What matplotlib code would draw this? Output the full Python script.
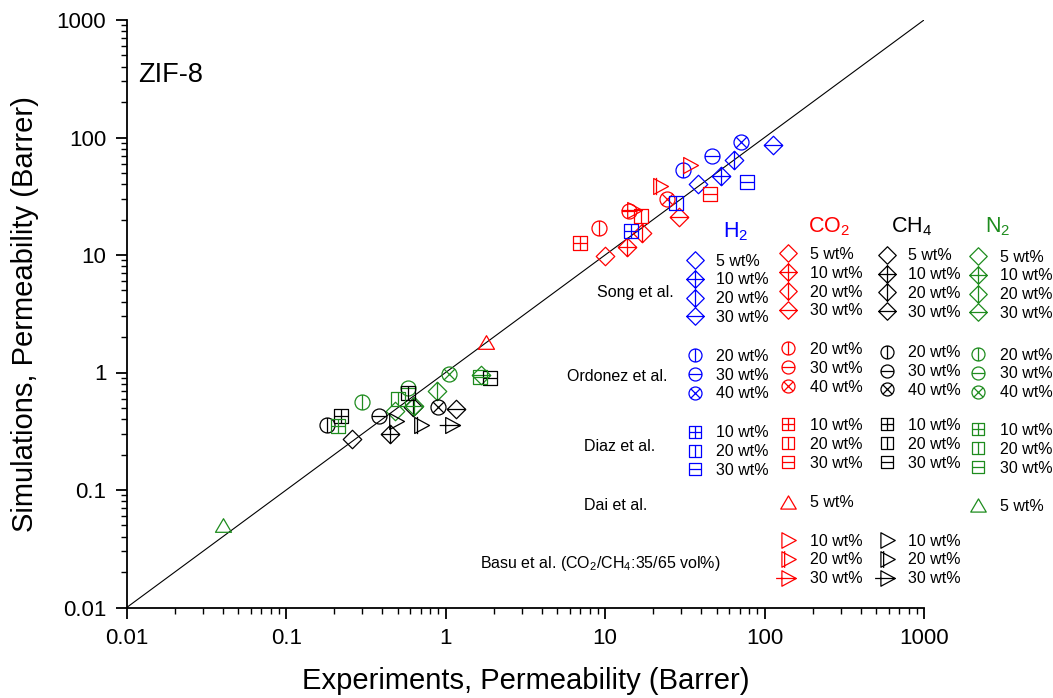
import numpy as np
import matplotlib
matplotlib.use("Agg")
import matplotlib.pyplot as plt
from matplotlib.path import Path
from matplotlib.ticker import FixedLocator, LogLocator, NullFormatter

plt.rcParams['font.family'] = ['Liberation Sans', 'DejaVu Sans']
plt.rcParams['mathtext.default'] = 'regular'

# ---------------- data (experiment, simulation) in Barrer ----------------
# Song et al.  (5, 10, 20, 30 wt%)
song_h2_exp = [38, 53, 64, 113]
song_h2_sim = [40, 47, 64, 86]
song_co2_exp = [10, 13.7, 17, 29]
song_co2_sim = [9.8, 11.6, 15.5, 21]
song_ch4_exp = [0.26, 0.45, 0.62, 1.16]
song_ch4_sim = [0.27, 0.30, 0.51, 0.49]
song_n2_exp = [0.48, 0.63, 0.88, 1.67]
song_n2_sim = [0.47, 0.52, 0.70, 0.95]

# Ordonez et al.  (20, 30, 40 wt%)
ord_h2_exp = [31, 47, 71]
ord_h2_sim = [53, 70, 91]
ord_co2_exp = [9.1, 14.2, 24.4]
ord_co2_sim = [17, 23.8, 30]
ord_ch4_exp = [0.18, 0.38, 0.89]
ord_ch4_sim = [0.36, 0.43, 0.51]
ord_n2_exp = [0.30, 0.585, 1.05]
ord_n2_sim = [0.56, 0.74, 0.97]

# Diaz et al.  (10, 20, 30 wt%)
diaz_h2_exp = [14.5, 28, 78]
diaz_h2_sim = [16, 27.5, 42]
diaz_co2_exp = [7.0, 16.8, 45.6]
diaz_co2_sim = [12.6, 21.5, 33]
diaz_ch4_exp = [0.22, 0.58, 1.9]
diaz_ch4_sim = [0.43, 0.67, 0.90]
diaz_n2_exp = [0.21, 0.50, 1.65]
diaz_n2_sim = [0.35, 0.59, 0.91]

# Dai et al.  (5 wt%)
dai_co2_exp = [1.8]
dai_co2_sim = [1.83]
dai_n2_exp = [0.04]
dai_n2_sim = [0.05]

# Basu et al.  (10, 20, 30 wt%), CO2/CH4 35/65 vol% mixture
basu_co2_exp = [34, 22, 15.2]
basu_co2_sim = [58, 38.7, 24.2]
basu_ch4_exp = [0.49, 0.70, 1.09]
basu_ch4_sim = [0.39, 0.36, 0.36]

axis_ticks = [0.01, 0.1, 1, 10, 100, 1000]
axis_ticklabels = ['0.01', '0.1', '1', '10', '100', '1000']

song_loadings = ['5 wt%', '10 wt%', '20 wt%', '30 wt%']
ord_loadings = ['20 wt%', '30 wt%', '40 wt%']
diaz_loadings = ['10 wt%', '20 wt%', '30 wt%']
dai_loadings = ['5 wt%']
basu_loadings = ['10 wt%', '20 wt%', '30 wt%']

BLUE, RED, BLACK, GREEN = '#0000ff', '#ff0000', '#000000', '#1e8c1e'

# ---------------- marker shapes ----------------
MV, LN, CL = Path.MOVETO, Path.LINETO, Path.CLOSEPOLY


def outline(pts):
    return Path(list(pts) + [pts[0]], [MV] + [LN] * (len(pts) - 1) + [CL])


def seg(p0, p1):
    return Path([p0, p1], [MV, LN])


def combo(*parts):
    return Path.make_compound_path(*parts)


dia = outline([(0, 1), (1, 0), (0, -1), (-1, 0)])
sq = outline([(-1, -1), (1, -1), (1, 1), (-1, 1)])
cir = Path.unit_circle()
tri_up = outline([(0, 0.85), (-1, -0.85), (1, -0.85)])
tri_r = outline([(1, 0), (-0.85, 1), (-0.85, -1)])
d = 0.7071
H = seg((-1, 0), (1, 0))
V = seg((0, -1), (0, 1))

MARKERS = {
    'dia': (dia, 'dia'),
    'dia_plus': (combo(dia, H, V), 'dia'),
    'dia_v': (combo(dia, V), 'dia'),
    'dia_h': (combo(dia, H), 'dia'),
    'cir_v': (combo(cir, V), 'cir'),
    'cir_h': (combo(cir, H), 'cir'),
    'cir_x': (combo(cir, seg((-d, -d), (d, d)), seg((-d, d), (d, -d))), 'cir'),
    'sq_plus': (combo(sq, H, V), 'sq'),
    'sq_v': (combo(sq, V), 'sq'),
    'sq_h': (combo(sq, H), 'sq'),
    'tri_up': (tri_up, 'tri'),
    'tri_r': (tri_r, 'tri'),
    'tri_r_v': (combo(tri_r, seg((-0.5, -1.08), (-0.5, 1.08))), 'tri'),
    'tri_r_h': (combo(tri_r, seg((-1.6, 0), (1, 0))), 'tri'),
}

PLOT_PX = {'dia': 18.5, 'cir': 15, 'sq': 13.5, 'tri': 16}
LEG_PX = {'dia': 17.5, 'cir': 13, 'sq': 12.5, 'tri': 15.5}


def draw(axis, x, y, kind, color, sizes, **kw):
    path, family = MARKERS[kind]
    ext = np.abs(path.vertices).max()
    axis.plot(x, y, linestyle='none', marker=path,
              ms=sizes[family] * 0.72 * ext, mfc='none', mec=color,
              mew=0.9, **kw)


# ---------------- figure ----------------
W, Hh = 1053, 698
fig = plt.figure(figsize=(W / 100, Hh / 100), dpi=100)
x0, x1, y0, y1 = 126.7, 924, 20, 607.5
ax = fig.add_axes([x0 / W, 1 - y1 / Hh, (x1 - x0) / W, (y1 - y0) / Hh])
ax.set_xscale('log')
ax.set_yscale('log')
ax.set_xlim(0.01, 1000)
ax.set_ylim(0.01, 1000)
for s in ('top', 'right'):
    ax.spines[s].set_visible(False)
for s in ('left', 'bottom'):
    ax.spines[s].set_linewidth(1.3)
for a in (ax.xaxis, ax.yaxis):
    a.set_major_locator(FixedLocator(axis_ticks))
    a.set_minor_locator(LogLocator(base=10, subs=np.arange(2, 10)))
    a.set_minor_formatter(NullFormatter())
ax.set_xticklabels(axis_ticklabels)
ax.set_yticklabels(axis_ticklabels)
ax.tick_params(which='major', direction='out', length=7.7, width=1.3,
               labelsize=16, pad=7)
ax.tick_params(which='minor', direction='out', length=4.1, width=1.0)

# parity line
ax.plot([axis_ticks[0], axis_ticks[-1]], [axis_ticks[0], axis_ticks[-1]],
        color='black', lw=0.8, zorder=1)

series = [
    (song_h2_exp, song_h2_sim, ['dia', 'dia_plus', 'dia_v', 'dia_h'], BLUE),
    (song_co2_exp, song_co2_sim, ['dia', 'dia_plus', 'dia_v', 'dia_h'], RED),
    (song_ch4_exp, song_ch4_sim, ['dia', 'dia_plus', 'dia_v', 'dia_h'], BLACK),
    (song_n2_exp, song_n2_sim, ['dia', 'dia_plus', 'dia_v', 'dia_h'], GREEN),
    (ord_h2_exp, ord_h2_sim, ['cir_v', 'cir_h', 'cir_x'], BLUE),
    (ord_co2_exp, ord_co2_sim, ['cir_v', 'cir_h', 'cir_x'], RED),
    (ord_ch4_exp, ord_ch4_sim, ['cir_v', 'cir_h', 'cir_x'], BLACK),
    (ord_n2_exp, ord_n2_sim, ['cir_v', 'cir_h', 'cir_x'], GREEN),
    (diaz_h2_exp, diaz_h2_sim, ['sq_plus', 'sq_v', 'sq_h'], BLUE),
    (diaz_co2_exp, diaz_co2_sim, ['sq_plus', 'sq_v', 'sq_h'], RED),
    (diaz_ch4_exp, diaz_ch4_sim, ['sq_plus', 'sq_v', 'sq_h'], BLACK),
    (diaz_n2_exp, diaz_n2_sim, ['sq_plus', 'sq_v', 'sq_h'], GREEN),
    (dai_co2_exp, dai_co2_sim, ['tri_up'], RED),
    (dai_n2_exp, dai_n2_sim, ['tri_up'], GREEN),
    (basu_co2_exp, basu_co2_sim, ['tri_r', 'tri_r_v', 'tri_r_h'], RED),
    (basu_ch4_exp, basu_ch4_sim, ['tri_r', 'tri_r_v', 'tri_r_h'], BLACK),
]
for xs, ys, kinds, col in series:
    for xv, yv, k in zip(xs, ys, kinds):
        draw(ax, [xv], [yv], k, col, PLOT_PX, zorder=3, clip_on=False)

# ---------------- annotation layer in pixel units ----------------
lg = fig.add_axes([0, 0, 1, 1], zorder=5)
lg.set_xlim(0, W)
lg.set_ylim(Hh, 0)
lg.axis('off')
lg.patch.set_alpha(0)

lg.text(138.3, 81.7, 'ZIF-8', fontsize=19.5, ha='left', va='baseline')
lg.text((x0 + x1) / 2, 689, 'Experiments, Permeability (Barrer)',
        fontsize=21, ha='center', va='baseline')
lg.text(33, (y0 + y1) / 2, 'Simulations, Permeability (Barrer)',
        fontsize=21, ha='center', va='baseline', rotation=90,
        rotation_mode='anchor')

# column headers
headers = [('H$_2$', 736, 237, BLUE), ('CO$_2$', 829, 232, RED),
           ('CH$_4$', 912, 232, BLACK), ('N$_2$', 998, 232, GREEN)]
for txt, hx, hy, col in headers:
    lg.text(hx, hy, txt, fontsize=15.5, color=col, ha='center', va='baseline')

# gas columns: marker x, text x, colour
cols = {'H2': (695, 716, BLUE), 'CO2': (788, 810, RED),
        'CH4': (887, 908, BLACK), 'N2': (978, 1000, GREEN)}
step = 18.8
blocks = [
    (song_loadings, ['dia', 'dia_plus', 'dia_v', 'dia_h'],
     {'H2': 260, 'CO2': 253.3, 'CH4': 254.7, 'N2': 256}),
    (ord_loadings, ['cir_v', 'cir_h', 'cir_x'],
     {'H2': 355, 'CO2': 348.3, 'CH4': 351.7, 'N2': 354}),
    (diaz_loadings, ['sq_plus', 'sq_v', 'sq_h'],
     {'H2': 431.7, 'CO2': 424.3, 'CH4': 424.3, 'N2': 429.3}),
    (dai_loadings, ['tri_up'], {'CO2': 501.7, 'N2': 505}),
    (basu_loadings, ['tri_r', 'tri_r_v', 'tri_r_h'], {'CO2': 540, 'CH4': 540}),
]
for labels, kinds, starts in blocks:
    for gas, ystart in starts.items():
        mx, tx, col = cols[gas]
        for i, (lab, k) in enumerate(zip(labels, kinds)):
            yy = ystart + i * step
            draw(lg, [mx], [yy], k, col, LEG_PX, clip_on=False)
            lg.text(tx, yy + 5.7, lab, fontsize=11.5, ha='left',
                    va='baseline')

studies = [('Song et al.', 596.7, 291.7), ('Ordonez et al.', 567.3, 375),
           ('Diaz et al.', 584, 445.7), ('Dai et al.', 584, 504),
           ('Basu et al. (CO$_2$/CH$_4$:35/65 vol%)', 480, 562.7)]
for txt, sx, sy in studies:
    lg.text(sx, sy + 5.7, txt, fontsize=11.5, ha='left', va='baseline')

fig.savefig('out.png', dpi=100)
